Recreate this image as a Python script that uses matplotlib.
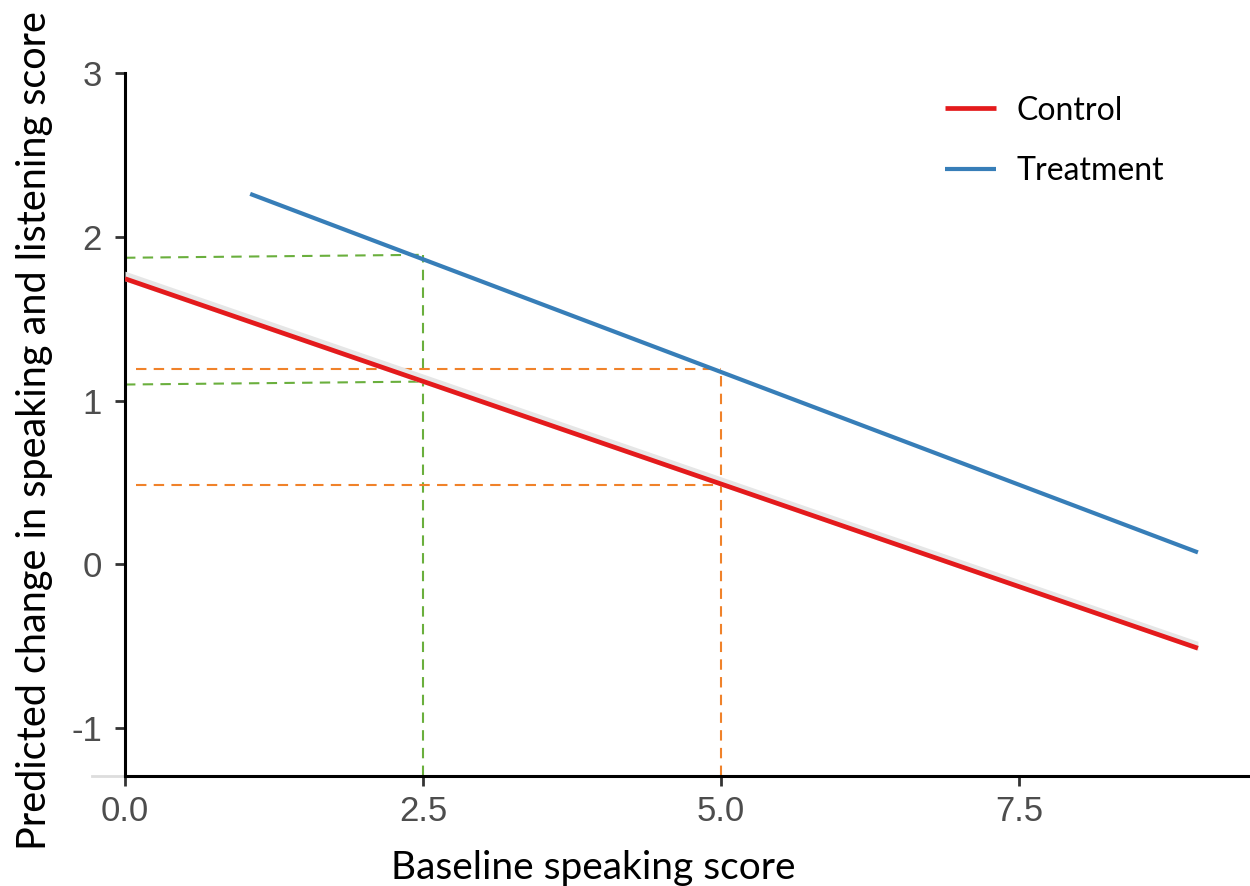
import matplotlib.pyplot as plt
import numpy as np

plt.rcParams["axes.unicode_minus"] = False

# fitted lines (endpoints)
control_x = [0.0, 9.0]
control_y = [1.744, -0.512]
control_band_lo = [1.73, -0.525]
control_band_hi = [1.79, -0.47]
treatment_x = [1.05, 9.0]
treatment_y = [2.262, 0.073]

# guide lines: green at baseline 2.5, orange at baseline 5.0
green_x = 2.5
green_upper = [1.872, 1.89]
green_lower = [1.098, 1.116]
orange_x = 5.0
orange_start = 0.09
orange_upper = 1.195
orange_lower = 0.482

x_ticks = [0.0, 2.5, 5.0, 7.5]
x_ticklabels = ["0.0", "2.5", "5.0", "7.5"]
y_ticks = [-1, 0, 1, 2, 3]

fig = plt.figure(figsize=(12.5, 8.86), dpi=100)
ax = fig.add_axes([0.1, 0.124, 0.8984, 0.7936])

x_min, x_max = 0.0, 9.42
y_min, y_max = -1.293, 3.0

green = "#6aaf3d"
orange = "#f0822a"
dash = (0, (5, 3.5))
glw = 1.5

# green guides
ax.plot([x_min, green_x], green_upper, color=green, lw=glw, ls=dash, zorder=2)
ax.plot([x_min, green_x], green_lower, color=green, lw=glw, ls=dash, zorder=2)
ax.plot([green_x, green_x], [y_min, green_upper[1]], color=green, lw=glw, ls=dash, zorder=2)

# orange guides
ax.plot([orange_start, orange_x], [orange_upper, orange_upper], color=orange, lw=glw, ls=dash, zorder=2)
ax.plot([orange_start, orange_x], [orange_lower, orange_lower], color=orange, lw=glw, ls=dash, zorder=2)
ax.plot([orange_x, orange_x], [y_min, orange_upper], color=orange, lw=glw, ls=dash, zorder=2)

# model lines
ax.fill_between(control_x, control_band_lo, control_band_hi, color="#e6e6e6", lw=0, zorder=3)
ax.plot(control_x, control_y, color="#e41a1c", lw=3.4, solid_capstyle="butt", label="Control", zorder=4)
ax.plot(treatment_x, treatment_y, color="#377eb8", lw=3.0, solid_capstyle="butt", label="Treatment", zorder=4)

ax.set_xlim(x_min, x_max)
ax.set_ylim(y_min, y_max)

for s in ["top", "right"]:
    ax.spines[s].set_visible(False)
for s in ["left", "bottom"]:
    ax.spines[s].set_linewidth(2.2)
    ax.spines[s].set_color("black")
ax.spines["left"].set_bounds(y_min, y_max)

# faint grey stub left of the origin
ax.plot([-0.029, 0], [0, 0], transform=ax.transAxes, color="#dddddd", lw=2, clip_on=False)

ax.set_xticks(x_ticks)
ax.set_xticklabels(x_ticklabels)
ax.set_yticks(y_ticks)
ax.tick_params(axis="both", length=7.5, width=2, color="#333333", labelcolor="#4d4d4d",
               labelsize=25)
ax.tick_params(axis="x", pad=6)
ax.tick_params(axis="y", pad=9)
for lab in ax.get_xticklabels() + ax.get_yticklabels():
    lab.set_family("Liberation Sans")

ax.set_xlabel("Baseline speaking score", fontsize=28, family="Lato")
ax.set_ylabel("Predicted change in speaking and listening score", fontsize=28.5, family="Lato")
ax.xaxis.set_label_coords(0.417, -0.105)
ax.yaxis.set_label_coords(-0.064, 0.492)

ax.legend(loc="upper left", bbox_to_anchor=(0.73, 0.968), frameon=False,
          prop={"family": "Lato", "size": 23}, handlelength=1.6, handletextpad=0.65,
          labelspacing=0.97, borderpad=0, borderaxespad=0)

plt.savefig("out.png", dpi=100)
plt.close(fig)
